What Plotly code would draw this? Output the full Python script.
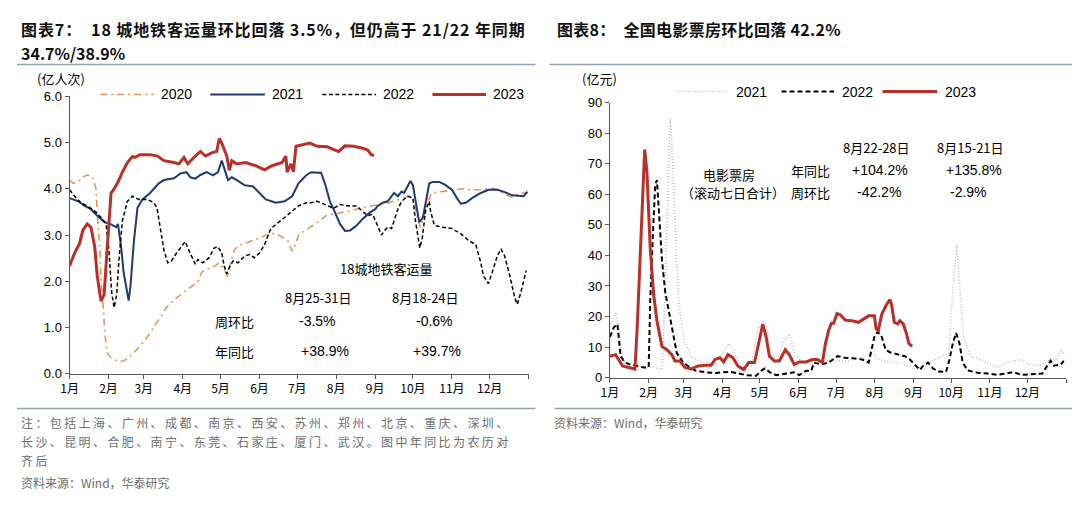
import plotly.graph_objects as go

# ---------------- 图表7 数据（日序号, 亿人次） ----------------
months = ["1月", "2月", "3月", "4月", "5月", "6月", "7月", "8月", "9月", "10月", "11月", "12月", ""]
month_start = [0, 31, 59, 90, 120, 151, 181, 212, 243, 273, 304, 334, 365]

day20 = [0, 3, 7, 10, 14, 18, 21, 22, 24, 25, 27, 28, 30, 33, 38, 42, 46, 51, 56, 62,
         67, 72, 77, 83, 88, 93, 98, 102, 105, 109, 114, 119, 123, 126, 128, 131, 135, 140, 147, 153,
         159, 164, 169, 174, 177, 180, 182, 186, 192, 199, 204, 210, 215, 223, 231, 239, 246, 254, 262, 270,
         274, 277, 279, 282, 285, 288, 296, 304, 312, 320, 328, 336, 341, 346, 352, 358, 364]
metro20 = [4.19, 4.12, 4.15, 4.25, 4.30, 4.27, 4.01, 3.45, 2.75, 2.05, 1.36, 0.87, 0.45, 0.34, 0.27, 0.27, 0.32, 0.45, 0.59, 0.80,
           1.00, 1.21, 1.43, 1.60, 1.70, 1.81, 1.91, 1.98, 2.19, 2.26, 2.30, 2.40, 2.26, 2.07, 2.40, 2.68, 2.78, 2.82, 2.89, 2.96,
           3.03, 3.03, 2.96, 2.86, 2.65, 2.82, 3.00, 3.07, 3.17, 3.31, 3.42, 3.45, 3.49, 3.52, 3.58, 3.63, 3.66, 3.70, 3.77, 3.84,
           3.73, 3.31, 3.17, 3.45, 3.73, 3.91, 3.94, 3.98, 4.00, 3.98, 3.98, 4.01, 3.98, 3.87, 3.82, 3.91, 3.91]

day21 = [0, 7, 12, 17, 22, 28, 33, 37, 38.5, 41, 43, 47, 48.5, 51, 54, 58, 64, 71, 75, 83,
         88, 93, 96, 100, 104, 109, 114, 118, 121, 123, 126, 129, 133, 139, 146, 151, 156, 164, 171, 177,
         182, 188, 192, 197, 200, 203, 207, 211, 215, 219, 223, 228, 233, 239, 243, 245, 249, 253, 258, 261,
         264, 266, 269, 271, 273, 275, 278, 281, 283, 286, 289, 294, 299, 304, 308, 311, 315, 320, 327, 333,
         340, 345, 352, 357, 361, 364]
metro21 = [3.80, 3.73, 3.63, 3.56, 3.42, 3.28, 3.23, 3.17, 3.24, 2.75, 2.19, 1.58, 1.91, 2.82, 3.59, 3.77, 3.91, 4.12, 4.19, 4.23,
           4.33, 4.36, 4.25, 4.22, 4.30, 4.36, 4.29, 4.36, 4.61, 4.43, 4.19, 4.25, 4.19, 4.08, 4.05, 3.91, 3.77, 3.70, 3.73, 3.84,
           4.12, 4.29, 4.36, 4.35, 4.35, 4.12, 3.73, 3.49, 3.24, 3.09, 3.10, 3.20, 3.35, 3.49, 3.56, 3.63, 3.70, 3.73, 3.91, 3.84,
           3.94, 3.91, 4.05, 4.17, 4.08, 3.73, 3.28, 3.38, 3.66, 4.12, 4.15, 4.15, 4.08, 3.98, 3.80, 3.68, 3.70, 3.80, 3.91, 3.98,
           3.98, 3.94, 3.86, 3.84, 3.84, 3.94]

day22 = [0, 4, 9, 14, 20, 25, 29, 31.5, 33.4, 35.4, 37.5, 39.3, 42, 46, 50, 55, 62, 67, 69.5, 72,
         75, 78, 81, 85, 89, 92, 94, 97, 100, 102, 106, 111, 115, 118, 121, 123, 125, 127, 130, 134,
         139, 143, 147, 151, 155, 160, 165, 171, 177, 182, 188, 192, 197, 203, 210, 215, 222, 228, 233, 237,
         241, 244, 248, 250.5, 253, 256, 258, 261, 264, 269, 273, 275, 278.5, 280.6, 283, 286, 287, 290, 296, 304,
         311, 317, 323, 327, 329, 333, 336, 340, 343, 346, 350, 354, 356, 359, 363]
metro22 = [3.98, 3.84, 3.70, 3.63, 3.52, 3.38, 3.24, 2.61, 1.78, 1.43, 1.71, 2.47, 3.31, 3.73, 3.84, 3.77, 3.77, 3.70, 3.59, 3.17,
           2.68, 2.40, 2.44, 2.61, 2.75, 2.86, 2.72, 2.54, 2.37, 2.47, 2.40, 2.51, 2.72, 2.75, 2.61, 2.33, 2.16, 2.30, 2.44, 2.40,
           2.54, 2.58, 2.51, 2.61, 2.79, 3.14, 3.24, 3.38, 3.52, 3.63, 3.70, 3.70, 3.73, 3.66, 3.58, 3.66, 3.63, 3.63, 3.52, 3.42,
           3.45, 3.24, 3.00, 3.10, 3.17, 3.14, 3.31, 3.56, 3.73, 3.84, 3.80, 3.31, 2.72, 2.96, 3.52, 3.73, 3.52, 3.21, 3.17, 3.14,
           3.03, 2.89, 2.79, 2.40, 2.12, 1.95, 2.19, 2.54, 2.70, 2.54, 2.12, 1.64, 1.50, 1.78, 2.23]

day23 = [0, 4, 8, 10.5, 14, 17, 20, 22, 25, 27.5, 30, 33, 35, 38, 42, 46, 50, 52, 56, 64,
         70, 75, 83, 87, 91, 94, 100, 104, 108, 113, 117, 119, 121, 125, 127, 129, 133, 140, 148, 155,
         161, 169, 172, 173, 176, 178, 180, 185, 191, 197, 205, 210, 214, 219, 226, 233, 237, 240, 242]
metro23 = [2.33, 2.61, 2.82, 3.10, 3.24, 3.17, 2.75, 2.12, 1.57, 1.71, 2.75, 3.91, 3.98, 4.12, 4.36, 4.57, 4.70, 4.68, 4.74, 4.74,
           4.71, 4.61, 4.57, 4.54, 4.68, 4.54, 4.71, 4.81, 4.71, 4.78, 4.81, 5.09, 4.99, 4.71, 4.40, 4.61, 4.54, 4.57, 4.50, 4.41,
           4.50, 4.57, 4.71, 4.36, 4.54, 4.37, 4.92, 4.95, 4.99, 4.92, 4.91, 4.85, 4.81, 4.93, 4.92, 4.88, 4.84, 4.74, 4.72]

# ---------------- 图表8 数据（日序号, 亿元） ----------------
bday21 = [0, 4.5, 7, 10, 16, 22, 30, 35, 41.6, 43, 45, 47, 48.2, 49.5, 51.4, 53.5, 56, 60, 65, 72,
          80, 86.5, 92, 95, 98, 102, 108, 113, 118, 122, 125, 129, 134, 139, 143.5, 147.5, 154, 162, 170, 178,
          190, 201, 211, 216, 223, 231, 239, 245, 249, 260, 266, 271, 274, 277.5, 280.6, 283, 288.5, 299, 310, 317.5,
          328, 336, 344, 352, 357, 361, 364]
box21 = [16.4, 21.3, 16.4, 5.9, 4.3, 3.6, 3.3, 3.3, 2.8, 15.4, 41.9, 68.4, 84.8, 76.9, 57.9, 36.8, 21.0, 11.6, 6.9, 5.3,
         4.8, 5.9, 9.1, 11.2, 9.6, 5.9, 3.8, 3.8, 15.4, 18.6, 17.5, 8.0, 5.4, 11.8, 14.4, 8.0, 4.9, 4.3, 5.4, 5.5,
         5.4, 6.6, 7.6, 5.9, 4.9, 4.9, 3.8, 3.3, 3.2, 5.9, 7.0, 8.0, 26.0, 43.5, 26.0, 13.3, 7.0, 5.5, 3.3, 4.9,
         5.9, 4.3, 3.8, 5.9, 5.9, 8.8, 7.4]

bday22 = [0, 3, 6, 8.5, 12, 16, 22, 27, 31, 32.3, 34.4, 36.2, 37.6, 39.7, 41.6, 44.2, 48.2, 50.8, 53.5, 58.7,
          64, 69, 77, 85, 90, 96, 101, 109, 117, 121, 124, 128, 133, 141, 147.5, 151.5, 157, 161, 163.4, 169,
          175, 182, 188, 195, 202, 207, 209.5, 211.6, 214.3, 217.5, 220.6, 224, 231, 236, 240, 244, 248, 250.5, 254.5, 258.5,
          262.4, 269, 271.7, 274.4, 277, 279.7, 282.3, 286.3, 294, 302, 310, 317, 323, 329, 334, 341, 346, 350, 352.6, 355.3,
          360.6, 363.2]
box22 = [13.3, 16.4, 17.5, 7.0, 4.9, 4.3, 3.8, 3.3, 3.3, 25.8, 47.0, 63.0, 64.7, 51.4, 38.7, 28.1, 19.7, 14.4, 8.0, 4.9,
         3.3, 2.2, 1.7, 1.5, 1.7, 1.9, 1.5, 0.8, 0.6, 2.2, 3.0, 1.7, 0.8, 1.2, 1.7, 0.8, 2.2, 2.2, 4.9, 4.3,
         4.9, 7.0, 6.5, 6.3, 5.9, 4.9, 9.1, 13.3, 15.0, 13.3, 9.1, 8.3, 7.5, 7.0, 5.9, 4.3, 2.5, 3.8, 4.9, 3.0,
         2.0, 1.9, 5.9, 11.2, 14.6, 11.2, 4.9, 2.3, 1.6, 1.3, 0.9, 1.3, 1.8, 0.9, 1.0, 1.0, 1.3, 3.9, 5.5, 3.9,
         4.2, 5.5]

bday23 = [0, 4.5, 7, 10, 15, 20, 21.7, 24.3, 26.5, 27.8, 29.6, 32.3, 35, 37.6, 41.6, 45.5, 49.5, 52, 56, 60,
          65, 70.6, 76, 81, 84, 88, 91, 94.4, 98.4, 102.4, 107, 111, 115.7, 119.7, 122.3, 125, 127.6, 131.6, 135.6, 140.3,
          143.5, 147.5, 151.5, 156.8, 162, 166, 170, 172.5, 175, 177.2, 179, 181.7, 184.4, 188.3, 193.6, 198.9, 203, 207, 211.6, 213,
          214.8, 217.5, 221.4, 224.1, 225.4, 227.5, 230.2, 232, 234.7, 237.3, 239.2, 241.8]
box23 = [7.0, 7.5, 5.9, 3.8, 3.3, 2.8, 15.4, 41.9, 63.0, 74.7, 67.3, 41.9, 27.1, 18.6, 10.2, 9.1, 7.5, 5.4, 5.4, 3.3,
         2.8, 3.8, 4.0, 4.0, 5.9, 6.5, 5.1, 7.5, 6.5, 3.8, 2.6, 4.9, 4.9, 13.3, 17.5, 13.3, 7.0, 5.4, 5.4, 9.1,
         7.5, 4.3, 5.1, 5.1, 5.9, 5.9, 4.9, 11.2, 15.4, 17.8, 17.8, 21.0, 20.5, 18.8, 18.6, 18.1, 19.2, 20.2, 20.2, 16.0,
         15.4, 20.7, 23.9, 25.5, 23.9, 18.1, 17.6, 18.6, 17.6, 14.4, 11.2, 10.2]

# 页面 body 默认有 8px 边距，图本身缩小 16px 让整页正好是 1080x506
PAD = 8
W, H = 1080 - 2 * PAD, 506 - 2 * PAD
FONT = "Liberation Sans, Arial, Noto Sans CJK SC"
CJK = "Noto Sans CJK SC, Liberation Sans"


def px(x):
    return (x - PAD) / W


def py(y):
    return 1 - (y - PAD) / H


# 线型
c20 = dict(color="#E8955A", width=1.6, dash="7px,4px,2px,4px")
c21 = dict(color="#1F3A74", width=2)
c22 = dict(color="#000000", width=1.5, dash="4px,2.5px")
c23 = dict(color="#B83027", width=3)
g21 = dict(color="#BFBFBF", width=1.5, dash="1px,2px")
b22 = dict(color="#000000", width=2, dash="5px,3px")
r23 = dict(color="#B83027", width=3)

fig = go.Figure()
fig.add_trace(go.Scatter(x=day20, y=metro20, mode="lines", line=c20, name="2020", xaxis="x", yaxis="y"))
fig.add_trace(go.Scatter(x=day21, y=metro21, mode="lines", line=c21, name="2021", xaxis="x", yaxis="y"))
fig.add_trace(go.Scatter(x=day22, y=metro22, mode="lines", line=c22, name="2022", xaxis="x", yaxis="y"))
fig.add_trace(go.Scatter(x=day23, y=metro23, mode="lines", line=c23, name="2023", xaxis="x", yaxis="y"))

fig.add_trace(go.Scatter(x=bday21, y=box21, mode="lines", line=g21, name="2021", xaxis="x2", yaxis="y2"))
fig.add_trace(go.Scatter(x=bday22, y=box22, mode="lines", line=b22, name="2022", xaxis="x2", yaxis="y2"))
fig.add_trace(go.Scatter(x=bday23, y=box23, mode="lines", line=r23, name="2023", xaxis="x2", yaxis="y2"))

axis_common = dict(showgrid=False, zeroline=False, showline=True, linecolor="#595959", linewidth=1,
                   ticks="outside", tickcolor="#595959", ticklen=4, tickfont=dict(family=FONT, size=13, color="#000"))

fig.update_layout(
    width=W, height=H,
    margin=dict(l=0, r=0, t=0, b=0),
    paper_bgcolor="white", plot_bgcolor="white",
    showlegend=False,
    xaxis=dict(axis_common, domain=[px(61), px(524)], range=[0, 365], tickvals=month_start, ticktext=months,
               tickfont=dict(family=CJK, size=12, color="#000"), anchor="y"),
    yaxis=dict(axis_common, domain=[py(378), py(92)], range=[0, 6], dtick=1, tickformat=".1f", anchor="x"),
    xaxis2=dict(axis_common, domain=[px(606), px(1066)], range=[0, 365], tickvals=month_start, ticktext=months,
                tickfont=dict(family=CJK, size=12, color="#000"), anchor="y2"),
    yaxis2=dict(axis_common, domain=[py(382), py(98.5)], range=[0, 90], dtick=10, anchor="x2"),
)

ann = []


def text(x, y, s, size=13, anchor="center", family=FONT, color="#000"):
    ann.append(dict(x=px(x), y=py(y), xref="paper", yref="paper", text=s, showarrow=False,
                    xanchor=anchor, yanchor="middle", font=dict(family=family, size=size, color=color)))


# 标题
title_style = '<span style="letter-spacing:%spx"><b>%s</b></span>'
text(10, 22, title_style % (0.9, "图表7：  18 城地铁客运量环比回落 3.5%，但仍高于 21/22 年同期"), 16, "left", CJK, "#111")
text(10, 47, "<b>34.7%/38.9%</b>", 16, "left", CJK, "#111")
text(551, 22, title_style % (0.3, "图表8：  全国电影票房环比回落 42.2%"), 16, "left", CJK, "#111")
text(26, 74, "(亿人次)", 13, "left", CJK)
text(576, 74, "(亿元)", 13, "left", CJK)

# 图表7 注释
text(380, 270, "18城地铁客运量", 13, "center", CJK)
text(312, 299, "8月25-31日", 13, "center", CJK)
text(420, 299, "8月18-24日", 13, "center", CJK)
text(227, 324, "周环比", 13, "center", CJK)
text(311, 324, "-3.5%", 14)
text(429, 324, "-0.6%", 14)
text(227, 355, "年同比", 13, "center", CJK)
text(319, 355, "+38.9%", 14)
text(432, 355, "+39.7%", 14)

# 图表8 注释
text(875, 145, "8月22-28日", 13, "center", CJK)
text(970, 145, "8月15-21日", 13, "center", CJK)
text(726, 173, "电影票房", 13, "center", CJK)
text(785, 191, "（滚动七日合计）", 13, "right", CJK)
text(808, 168, "年同比", 13, "center", CJK)
text(808, 191, "周环比", 13, "center", CJK)
text(878, 168, "+104.2%", 14)
text(973, 168, "+135.8%", 14)
text(877, 191, "-42.2%", 14)
text(968, 191, "-2.9%", 14)

# 图例
shapes = []
legend_left = [(92, 146, c20, "2020"), (203, 258, c21, "2021"), (316, 370, c22, "2022"), (427, 481, c23, "2023")]
for x0, x1, st, lab in legend_left:
    shapes.append(dict(type="line", xref="paper", yref="paper", x0=px(x0), x1=px(x1), y0=py(90), y1=py(90), line=st))
    text(x1 + 5, 90, lab, 14, "left")
legend_right = [(673, 725, g21, "2021"), (779, 832, b22, "2022"), (881, 936, r23, "2023")]
for x0, x1, st, lab in legend_right:
    shapes.append(dict(type="line", xref="paper", yref="paper", x0=px(x0), x1=px(x1), y0=py(87), y1=py(87), line=st))
    text(x1 + 6, 87, lab, 14, "left")

# 分隔线
for x0, x1, y in [(8, 531, 59), (545, 1072, 59), (8, 531, 414), (550, 1072, 414)]:
    shapes.append(dict(type="line", xref="paper", yref="paper", x0=px(x0), x1=px(x1), y0=py(y), y1=py(y),
                       line=dict(color="#8EA0BC", width=1.5)))

# 脚注
note_style = '<span style="letter-spacing:2.4px">%s</span>'
text(10, 428, note_style % "注：包括上海、广州、成都、南京、西安、苏州、郑州、北京、重庆、深圳、", 12, "left", CJK, "#6E6E6E")
text(10, 448, note_style % "长沙、昆明、合肥、南宁、东莞、石家庄、厦门、武汉。图中年同比为农历对", 12, "left", CJK, "#6E6E6E")
text(10, 468, note_style % "齐后", 12, "left", CJK, "#6E6E6E")
text(10, 490, "资料来源：Wind，华泰研究", 12, "left", CJK, "#6E6E6E")
text(548, 428, "资料来源：Wind，华泰研究", 12, "left", CJK, "#6E6E6E")

fig.update_layout(annotations=ann, shapes=shapes)

fig.write_html("out.html")
